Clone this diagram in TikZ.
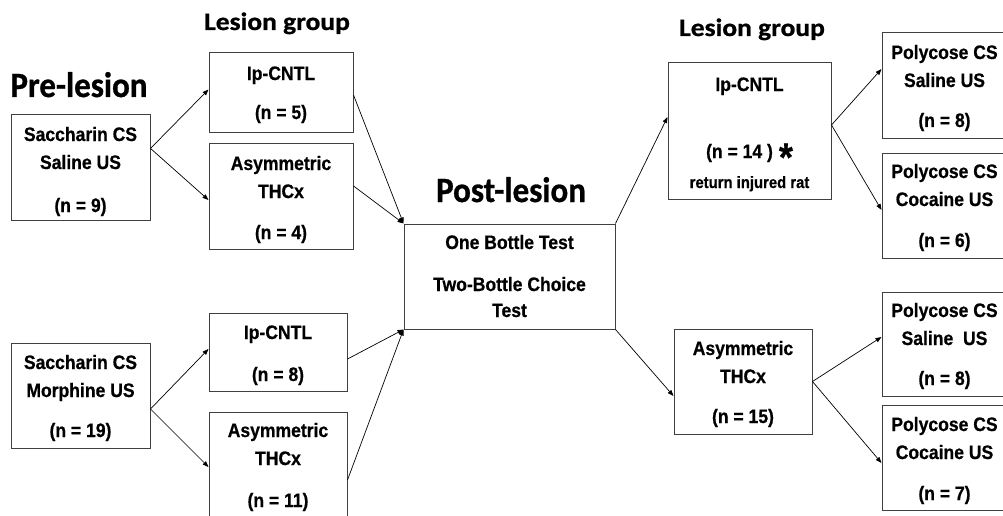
\documentclass[tikz,border=0pt]{standalone}
\usepackage{fontspec}
\usetikzlibrary{arrows.meta,calc}
\newfontfamily\boxfont[FakeStretch=0.9,FakeBold=0.6]{Liberation Sans Bold}
\newfontfamily\headfont[FakeStretch=0.93,FakeBold=0.8]{Carlito Bold}
\newfontfamily\lesfont[FakeStretch=1.1,FakeBold=0.8]{Carlito Bold}
\tikzset{
  box/.style={draw=black!75, line width=1pt, inner sep=0pt, rectangle, fill=white},
  txt/.style={font=\boxfont\fontsize{19.5}{28}\selectfont, align=center, anchor=base, inner sep=0pt},
  head/.style={font=\headfont\fontsize{35.5}{40}\selectfont, anchor=base, inner sep=0pt},
  les/.style={font=\lesfont\fontsize{25}{30}\selectfont, anchor=base, inner sep=0pt},
  arr/.style={-{Triangle[length=6pt,width=4.5pt]}, line width=0.7pt, black},
}
\begin{document}
\begin{tikzpicture}[x=1pt,y=-1pt]
\useasboundingbox (0,0) rectangle (1003,516);
\clip (0,0) rectangle (1003,516);
\fill[white] (0,0) rectangle (1003,516);

% headings
\node[head] (hpre) at (79,97) {Pre-lesion};
\node[head] (hpost) at (511,202) {Post-lesion};
\node[les] (hles1) at (277,30) {Lesion group};
\node[les] (hles2) at (752,36) {Lesion group};

% boxes
\node[box, minimum width=139pt, minimum height=105pt] (s1) at (80.5,167.5) {};
\node[box, minimum width=144pt, minimum height=79pt] (l1) at (281,92.5) {};
\node[box, minimum width=144pt, minimum height=106pt] (l2) at (281,196) {};
\node[box, minimum width=211pt, minimum height=105pt] (post) at (509.5,276.5) {};
\node[box, minimum width=139pt, minimum height=105pt] (s2) at (80.5,395.5) {};
\node[box, minimum width=138pt, minimum height=78pt] (l3) at (278,352) {};
\node[box, minimum width=138pt, minimum height=110pt] (l4) at (278,467) {};
\node[box, minimum width=163pt, minimum height=136pt] (r1) at (749.5,131) {};
\node[box, minimum width=138pt, minimum height=105pt] (r2) at (743,381.5) {};
\node[box, minimum width=128pt, minimum height=105pt] (p1) at (946,85.5) {};
\node[box, minimum width=128pt, minimum height=105pt] (p2) at (946,205.5) {};
\node[box, minimum width=128pt, minimum height=104pt] (p3) at (946,344) {};
\node[box, minimum width=128pt, minimum height=105pt] (p4) at (946,457.5) {};

% texts (anchored at the baseline of the last line)
\node[txt] (ts1) at (80.5,212) {Saccharin CS\\Saline US\\[15pt](n = 9)};
\node[txt] (tl1) at (281,119) {Ip-CNTL\\[11pt](n = 5)};
\node[txt] (tl2) at (281,239) {Asymmetric\\THCx\\[13pt](n = 4)};
\node[txt] (tpost) at (509.5,317) {One Bottle Test\\[14pt]Two-Bottle Choice\\[-2pt]Test};
\node[txt] (ts2) at (80.5,437) {Saccharin CS\\Morphine US\\[12pt](n = 19)};
\node[txt] (tl3) at (278,381) {Ip-CNTL\\[14pt](n = 8)};
\node[txt] (tl4) at (278,507) {Asymmetric\\THCx\\[14pt](n = 11)};
\node[txt] (tr1) at (749.5,188) {Ip-CNTL\\[39pt](n = 14 )\hspace{6pt}\raisebox{-13pt}[12pt][0pt]{\fontsize{40}{40}\selectfont *}\\[2pt]{\fontsize{16.5}{20}\selectfont return injured rat}};
\node[txt] (tr2) at (743,423) {Asymmetric\\THCx\\[12pt](n = 15)};
\node[txt] (tp1) at (944.5,127) {Polycose CS\\Saline US\\[12pt](n = 8)};
\node[txt] (tp2) at (944.5,247) {Polycose CS\\Cocaine US\\[13pt](n = 6)};
\node[txt] (tp3) at (944.5,385) {Polycose CS\\Saline\ \ US\\[12pt](n = 8)};
\node[txt] (tp4) at (944.5,500) {Polycose CS\\Cocaine US\\[13pt](n = 7)};

% connectors
\draw[arr] ($(s1.north east)!0.32!(s1.south east)$) -- ($(l1.west)+(0,-3)$);
\draw[arr] ($(s1.north east)!0.32!(s1.south east)$) -- ($(l2.west)+(0,4)$);
\draw[arr] ($(l1.east)+(0,2.5)$) -- (post.north west);
\draw[arr] ($(l2.east)+(0,-10)$) -- (post.north west);
\draw[arr] ($(s2.east)+(0,13.5)$) -- ($(l3.west)+(0,-3)$);
\draw[arr] ($(s2.east)+(0,13.5)$) -- (l4.west);
\draw[arr] ($(l3.east)+(0,7)$) -- (post.south west);
\draw[arr] ($(l4.east)+(0,13)$) -- (post.south west);
\draw[arr] (post.north east) -- ($(r1.west)+(0,-14)$);
\draw[arr] (post.south east) -- ($(r2.west)+(0,14.5)$);
\draw[arr] ($(r1.east)+(0,-6)$) -- ($(p1.west)+(0,-16.5)$);
\draw[arr] ($(r1.east)+(0,-6)$) -- ($(p2.west)+(0,4.5)$);
\draw[arr] (r2.east) -- ($(p3.west)+(0,-7)$);
\draw[arr] (r2.east) -- ($(p4.west)+(0,5.5)$);
\end{tikzpicture}
\end{document}
